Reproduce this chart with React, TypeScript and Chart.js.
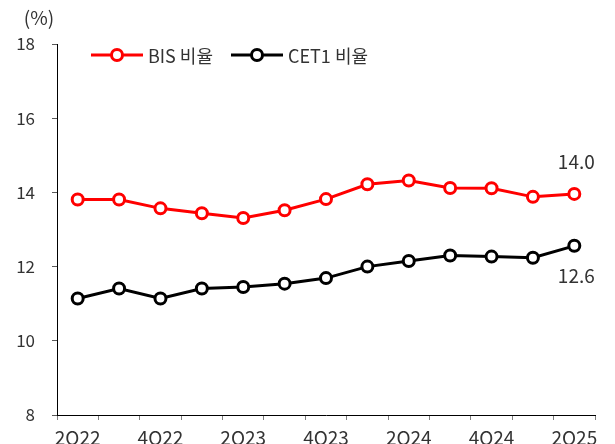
import React, { useEffect, useRef } from "react";
import { Chart, registerables } from "chart.js";

Chart.register(...registerables);

const categories = ["2Q22", "3Q22", "4Q22", "1Q23", "2Q23", "3Q23", "4Q23", "1Q24", "2Q24", "3Q24", "4Q24", "1Q25", "2Q25"];
const bisRatio = [13.81, 13.81, 13.57, 13.44, 13.31, 13.52, 13.82, 14.22, 14.32, 14.12, 14.11, 13.88, 13.96];
const cet1Ratio = [11.14, 11.41, 11.14, 11.41, 11.45, 11.54, 11.69, 12.0, 12.15, 12.3, 12.27, 12.24, 12.56];
const seriesNames = ["BIS 비율", "CET1 비율"];
const seriesColors = ["#FF0000", "#000000"];
const yMin = 8;
const yMax = 18;
const yStep = 2;
const unitLabel = "(%)";

const FONT = "'Noto Sans CJK KR', 'Noto Sans', sans-serif";
const TEXT = "#333333";

const overlayPlugin = {
  id: "overlay",
  afterDraw(chart: any) {
    const ctx = chart.ctx;
    ctx.save();
    // unit label
    ctx.font = `19px ${FONT}`;
    ctx.fillStyle = TEXT;
    ctx.textAlign = "center";
    ctx.textBaseline = "middle";
    ctx.fillText(unitLabel, 39, 18);

    // legend
    const items = [
      { x0: 91, name: seriesNames[0], color: seriesColors[0] },
      { x0: 231, name: seriesNames[1], color: seriesColors[1] },
    ];
    const ly = 55;
    items.forEach((it) => {
      ctx.strokeStyle = it.color;
      ctx.lineWidth = 3;
      ctx.beginPath();
      ctx.moveTo(it.x0, ly);
      ctx.lineTo(it.x0 + 52, ly);
      ctx.stroke();
      ctx.beginPath();
      ctx.arc(it.x0 + 26, ly, 5.5, 0, Math.PI * 2);
      ctx.fillStyle = "#ffffff";
      ctx.fill();
      ctx.stroke();
      ctx.fillStyle = TEXT;
      ctx.textAlign = "left";
      ctx.textBaseline = "middle";
      ctx.font = `18px ${FONT}`;
      ctx.fillText(it.name, it.x0 + 57, ly + 1);
    });

    // last value labels
    const offsets = [-32, 30];
    chart.data.datasets.forEach((ds: any, i: number) => {
      const meta = chart.getDatasetMeta(i);
      const last = meta.data[meta.data.length - 1];
      const v = ds.data[ds.data.length - 1];
      ctx.fillStyle = TEXT;
      ctx.textAlign = "center";
      ctx.textBaseline = "middle";
      ctx.font = `19px ${FONT}`;
      ctx.fillText(Number(v).toFixed(1), last.x + 2, last.y + offsets[i]);
    });
    ctx.restore();
  },
};

export default function App() {
  const ref = useRef<HTMLCanvasElement | null>(null);
  useEffect(() => {
    if (!ref.current) return;
    const chart = new Chart(ref.current, {
      type: "line",
      data: {
        labels: categories,
        datasets: [
          {
            label: seriesNames[0],
            data: bisRatio,
            borderColor: seriesColors[0],
            backgroundColor: "#ffffff",
            borderWidth: 3,
            pointRadius: 5.5,
            pointBorderWidth: 3,
            pointBackgroundColor: "#ffffff",
            pointBorderColor: seriesColors[0],
            tension: 0,
          },
          {
            label: seriesNames[1],
            data: cet1Ratio,
            borderColor: seriesColors[1],
            backgroundColor: "#ffffff",
            borderWidth: 3,
            pointRadius: 5.5,
            pointBorderWidth: 3,
            pointBackgroundColor: "#ffffff",
            pointBorderColor: seriesColors[1],
            tension: 0,
          },
        ],
      },
      options: {
        responsive: false,
        animation: false,
        layout: { padding: { top: 44, right: 20, left: 0, bottom: 0 } },
        plugins: {
          legend: { display: false },
          tooltip: { enabled: false },
        },
        scales: {
          x: {
            offset: true,
            grid: {
              display: true,
              offset: true,
              drawOnChartArea: false,
              drawTicks: true,
              tickLength: 5,
              color: "#7f7f7f",
            },
            border: { display: true, color: "#000000", width: 1 },
            ticks: {
              autoSkip: false,
              maxRotation: 0,
              padding: 6,
              color: TEXT,
              font: { family: FONT, size: 19 },
              callback: (_v: any, i: number) => (i % 2 === 0 ? categories[i] : ""),
            },
            afterFit: (s: any) => {
              s.height = 29;
            },
          },
          y: {
            min: yMin,
            max: yMax,
            grid: {
              display: true,
              drawOnChartArea: false,
              drawTicks: true,
              tickLength: 5,
              color: "#595959",
            },
            border: { display: true, color: "#000000", width: 1 },
            ticks: {
              stepSize: yStep,
              padding: 17,
              color: TEXT,
              font: { family: FONT, size: 17 },
            },
            afterFit: (s: any) => {
              s.width = 57;
            },
          },
        },
      },
      plugins: [overlayPlugin],
    });
    return () => chart.destroy();
  }, []);
  return (
    <div style={{ position: "fixed", left: 0, top: 0, width: 615, height: 444, background: "#fff" }}>
      <canvas ref={ref} width={615} height={444} />
    </div>
  );
}
